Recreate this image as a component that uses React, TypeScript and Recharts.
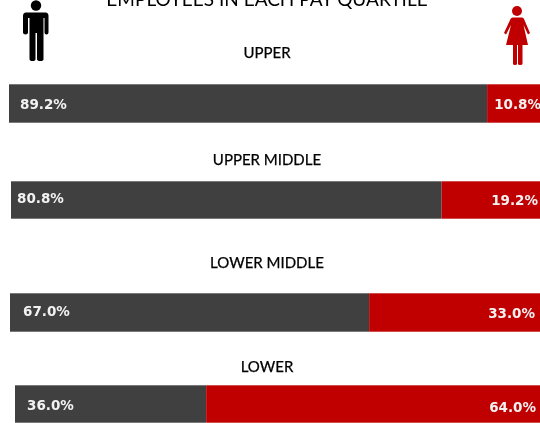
import { BarChart, Bar, XAxis, YAxis, LabelList } from 'recharts';

const quartiles = ['UPPER', 'UPPER MIDDLE', 'LOWER MIDDLE', 'LOWER'];
const maleShare = [89.2, 80.8, 67.0, 36.0];
const femaleShare = [10.8, 19.2, 33.0, 64.0];

// each row was a separate picture in the original, so they don't line up
const rowLayout = [
  { left: 9, top: 84, width: 536, height: 39, titleY: 58, maleY: 104, femaleY: 104, maleX: 11, femaleEnd: 541 },
  { left: 11, top: 181, width: 533, height: 38, titleY: 165, maleY: 198, femaleY: 200, maleX: 6, femaleEnd: 538 },
  { left: 10, top: 293, width: 536, height: 39, titleY: 268, maleY: 311, femaleY: 313, maleX: 13, femaleEnd: 535 },
  { left: 15, top: 385, width: 531, height: 38, titleY: 372, maleY: 405, femaleY: 407, maleX: 12, femaleEnd: 536 },
];
const titleFont = 'Lato, "Open Sans", sans-serif';
const valueFont = '"DejaVu Sans", sans-serif';

function ManIcon() {
  return (
    <g fill="#000">
      <circle cx={36} cy={5.5} r={5.2} />
      <path d="M26 12.5 H45.5 Q48.5 12.5 48.5 16 V32.5 Q48.5 34.5 46.5 34.5 Q44.5 34.5 44.5 32.5 V18 H43.5 V59 Q43.5 61 40.5 61 Q37 61 37 59 V33 H35.5 V59 Q35.5 61 32.5 61 Q29.5 61 29.5 59 V18 H28 V32.5 Q28 34.5 25.5 34.5 Q23 34.5 23 32.5 V16 Q23 12.5 26 12.5 Z" />
    </g>
  );
}

function WomanIcon() {
  return (
    <g fill="#c00000">
      <circle cx={517} cy={11} r={5} />
      <path d="M513 17.5 H522 Q523.5 17.5 524 19 L530 33 L528 34.5 L523.5 25 L528 45 H522.5 V64 Q522.5 65 520 65 Q518 65 518 64 V45 H517 V64 Q517 65 515 65 Q513 65 513 64 V45 H506 L511 25 L506 34.5 L504 33 L510.5 19 Q511 17.5 513 17.5 Z" />
    </g>
  );
}

function Row({ index }: { index: number }) {
  const row = rowLayout[index];
  const data = [{ name: quartiles[index], male: maleShare[index], female: femaleShare[index] }];

  const label = (key: 'male' | 'female') => (p: any) => {
    const isMale = key === 'male';
    return (
      <text
        x={isMale ? p.x + row.maleX : row.femaleEnd - row.left}
        y={(isMale ? row.maleY : row.femaleY) - row.top}
        dominantBaseline="central"
        textAnchor={isMale ? 'start' : 'end'}
        fill="#f2f2f2"
        fontFamily={valueFont}
        fontWeight={700}
        fontSize={13.5}
      >
        {p.value.toFixed(1)}%
      </text>
    );
  };

  return (
    <div style={{ position: 'absolute', left: row.left, top: row.top }}>
      <BarChart
        layout="vertical"
        width={row.width}
        height={row.height}
        data={data}
        margin={{ top: 0, right: 0, bottom: 0, left: 0 }}
        barCategoryGap={0}
      >
        <XAxis type="number" domain={[0, 100]} hide />
        <YAxis type="category" dataKey="name" hide />
        <Bar dataKey="male" stackId="a" fill="#404040" isAnimationActive={false}>
          <LabelList dataKey="male" content={label('male')} />
        </Bar>
        <Bar dataKey="female" stackId="a" fill="#c00000" isAnimationActive={false}>
          <LabelList dataKey="female" content={label('female')} />
        </Bar>
      </BarChart>
      {/* pale edge along the top and bottom of each strip */}
      <div
        style={{
          position: 'absolute',
          left: 0,
          top: 0,
          width: row.width,
          height: row.height - 2,
          borderTop: '1px solid rgba(255,255,255,0.3)',
          borderBottom: '1px solid rgba(255,255,255,0.3)',
        }}
      />
    </div>
  );
}

export default function App() {
  return (
    <div
      style={{
        position: 'absolute',
        left: 0,
        top: 0,
        width: 540,
        height: 423,
        overflow: 'hidden',
        background: '#fff',
        filter: 'blur(0.35px)',
      }}
    >
      <svg width={540} height={423} style={{ position: 'absolute', left: 0, top: 0 }}>
        <text x={267} y={6} textAnchor="middle" fontFamily={titleFont} fontSize={19} fill="#000">
          EMPLOYEES IN EACH PAY QUARTILE
        </text>
        <ManIcon />
        <WomanIcon />
        {quartiles.map((q, i) => (
          <text
            key={q}
            x={267}
            y={rowLayout[i].titleY}
            textAnchor="middle"
            fontFamily={titleFont}
            fontSize={15}
            fill="#000"
            stroke="#000"
            strokeWidth={0.25}
          >
            {q}
          </text>
        ))}
      </svg>
      {quartiles.map((q, i) => (
        <Row key={q} index={i} />
      ))}
    </div>
  );
}
